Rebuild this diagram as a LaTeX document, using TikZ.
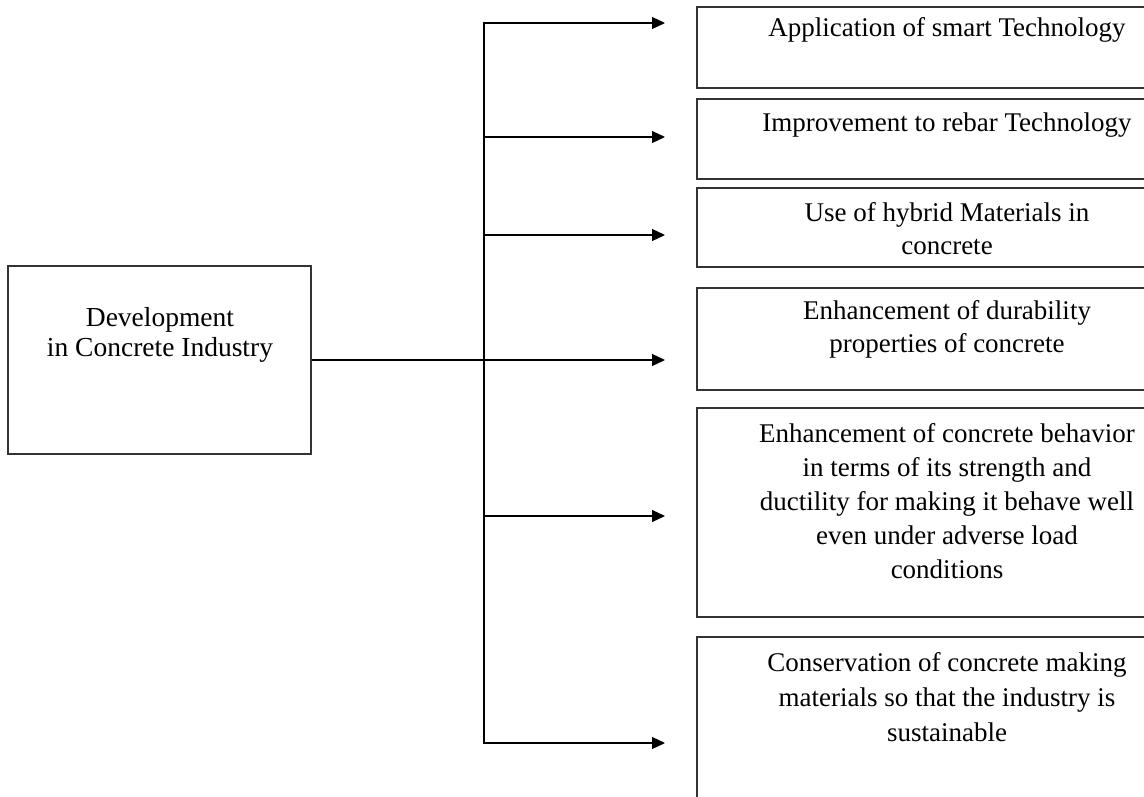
\documentclass[tikz,border=0pt]{standalone}
\usepackage{fontspec}
\setmainfont{Liberation Serif}
\usetikzlibrary{arrows.meta}
\begin{document}
\begin{tikzpicture}[x=1pt,y=-1pt,
  box/.style={draw=black!80, line width=1.4pt, inner sep=0pt},
  lbl/.style={font=\fontsize{27}{33}\selectfont, align=center, inner sep=0pt},
  conn/.style={line width=1.2pt},
  arr/.style={conn, -{Triangle[length=13pt,width=12pt]}}]
\useasboundingbox (0,0) rectangle (1144,796);
\clip (0,0) rectangle (1144,796);
% main box
\node[box, minimum width=303pt, minimum height=188pt] (main) at (159.5,360) {};
\node[lbl, font=\fontsize{27.5}{30}\selectfont] (mt) at (160,335) {Development\\in Concrete Industry};
% right boxes (extend past the right edge)
\node[box, minimum width=500pt, minimum height=81pt]  (b1) at (947,47.5) {};
\node[box, minimum width=500pt, minimum height=80pt]  (b2) at (947,139) {};
\node[box, minimum width=500pt, minimum height=79pt]  (b3) at (947,227.5) {};
\node[box, minimum width=500pt, minimum height=102pt] (b4) at (947,339) {};
\node[box, minimum width=500pt, minimum height=209pt] (b5) at (947,512.5) {};
\node[box, minimum width=500pt, minimum height=203pt] (b6) at (947,738.5) {};
% texts
\node[lbl] (t1) at (947,30) {Application of smart Technology};
\node[lbl] (t2) at (947,125) {Improvement to rebar Technology};
\node[lbl] (t3) at (947,228.5) {Use of hybrid Materials in\\concrete};
\node[lbl] (t4) at (947,329) {Enhancement of durability\\properties of concrete};
\node[lbl, font=\fontsize{27}{34}\selectfont] (t5) at (947,501) {Enhancement of concrete behavior\\in terms of its strength and\\ductility for making it behave well\\even under adverse load\\conditions};
\node[lbl, font=\fontsize{27}{35}\selectfont] (t6) at (947,697) {Conservation of concrete making\\materials so that the industry is\\sustainable};
% spine and arrow ends
\coordinate (s1) at (484,23);
\coordinate (s2) at (484,137);
\coordinate (s3) at (484,235);
\coordinate (s5) at (484,516);
\coordinate (s6) at (484,743);
\coordinate (a1) at (665,23);
\coordinate (a2) at (665,137);
\coordinate (a3) at (665,235);
\coordinate (a4) at (665,360);
\coordinate (a5) at (665,516);
\coordinate (a6) at (665,743);
\draw[conn, {Triangle[length=13pt,width=12pt]}-{Triangle[length=13pt,width=12pt]}] (a1) -- (s1) -- (s6) -- (a6);
\draw[arr] (s2) -- (a2);
\draw[arr] (s3) -- (a3);
\draw[arr] (main.east) -- (a4);
\draw[arr] (s5) -- (a5);
\end{tikzpicture}
\end{document}
